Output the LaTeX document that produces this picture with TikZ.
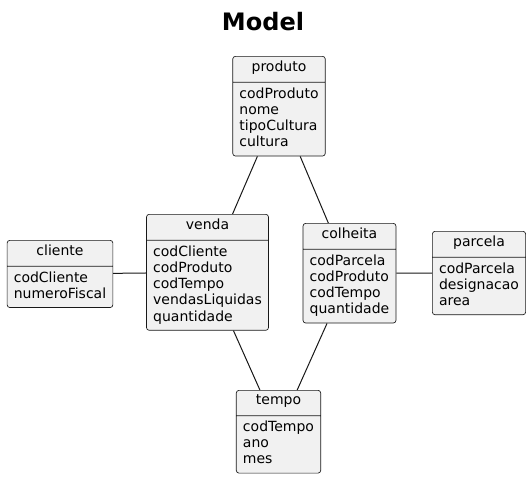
\documentclass[tikz,border=0pt]{standalone}
\usepackage{fontspec}
\setmainfont{DejaVu Sans}
\usetikzlibrary{shapes.multipart}

\definecolor{classfill}{HTML}{F1F1F1}
\definecolor{classline}{HTML}{181818}

% header strut and attribute list
\newcommand{\hstrut}{\rule[-5pt]{0pt}{12.5pt}}
\newcommand{\attrs}[1]{\begin{tabular}{@{}l@{}}#1\end{tabular}}

\begin{document}
\begin{tikzpicture}[x=0.75pt,y=-0.75pt,
    umlclass/.style={rectangle split, rectangle split parts=2,
      rectangle split part align={center,left},
      draw=classline, line width=0.5pt, fill=classfill,
      rounded corners=2pt, inner xsep=5pt, inner ysep=3pt,
      anchor=north, font=\fontsize{10.5}{12.2}\selectfont},
    umllink/.style={draw=classline, line width=0.75pt}]

  \useasboundingbox (0,0) rectangle (531,480);

  % Title
  \node[font=\fontsize{18}{20}\selectfont\bfseries] (titulo) at (263,22) {Model};

  % Classes (placed by top centre)
  \node[umlclass] (produto) at (279,56)
    {\hstrut produto \nodepart{two} \attrs{codProduto\\nome\\tipoCultura\\cultura}};
  \node[umlclass] (venda) at (207.5,214)
    {\hstrut venda \nodepart{two} \attrs{codCliente\\codProduto\\codTempo\\vendasLiquidas\\quantidade}};
  \node[umlclass] (cliente) at (60,240)
    {\hstrut cliente \nodepart{two} \attrs{codCliente\\numeroFiscal}};
  \node[umlclass] (colheita) at (349.5,223)
    {\hstrut colheita \nodepart{two} \attrs{codParcela\\codProduto\\codTempo\\quantidade}};
  \node[umlclass] (parcela) at (479,231)
    {\hstrut parcela \nodepart{two} \attrs{codParcela\\designacao\\area}};
  \node[umlclass] (tempo) at (278.5,390)
    {\hstrut tempo \nodepart{two} \attrs{codTempo\\ano\\mes}};

  % Associations
  \draw[umllink] (produto) -- (venda);
  \draw[umllink] (produto) -- (colheita);
  \draw[umllink] (cliente) -- (venda);
  \draw[umllink] (colheita) -- (parcela);
  \draw[umllink] (venda) -- (tempo);
  \draw[umllink] (colheita) -- (tempo);

\end{tikzpicture}
\end{document}
